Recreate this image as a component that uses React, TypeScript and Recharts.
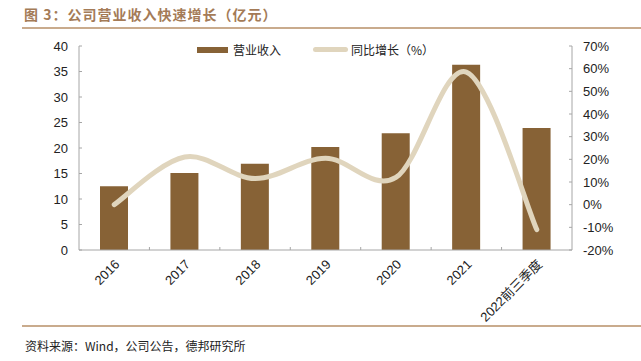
import React from "react";
import { ComposedChart, Bar, Line, XAxis, YAxis, Legend } from "recharts";

const years = ["2016", "2017", "2018", "2019", "2020", "2021", "2022前三季度"];
const revenue = [12.5, 15.1, 16.9, 20.2, 22.9, 36.3, 23.9];
const growth = [0.0, 21.0, 11.5, 20.5, 12.0, 58.5, -11.0];
const leftTicks = [0, 5, 10, 15, 20, 25, 30, 35, 40];
const rightTicks = [-20, -10, 0, 10, 20, 30, 40, 50, 60, 70];

const barName = "营业收入";
const lineName = "同比增长（%）";

const BROWN = "#876236";
const BEIGE = "#e0d5bd";
const AXIS = "#a6a6a6";
const FONT = "'Liberation Sans', Arial, 'Noto Sans CJK SC', sans-serif";
const CJK = "'Noto Sans CJK SC', sans-serif";

const data = years.map((y, i) => ({ year: y, revenue: revenue[i], growth: growth[i] }));

// excel-style smoothed line (catmull-rom through the points)
function smoothCurve(context: any) {
  let pts: number[][] = [];
  return {
    areaStart() {},
    areaEnd() {},
    lineStart() {
      pts = [];
    },
    point(x: number, y: number) {
      pts.push([+x, +y]);
    },
    lineEnd() {
      if (!pts.length) return;
      context.moveTo(pts[0][0], pts[0][1]);
      for (let i = 0; i < pts.length - 1; i++) {
        const p0 = pts[i - 1] || pts[i];
        const p1 = pts[i];
        const p2 = pts[i + 1];
        const p3 = pts[i + 2] || p2;
        context.bezierCurveTo(
          p1[0] + (p2[0] - p0[0]) / 6,
          p1[1] + (p2[1] - p0[1]) / 6,
          p2[0] - (p3[0] - p1[0]) / 6,
          p2[1] - (p3[1] - p1[1]) / 6,
          p2[0],
          p2[1]
        );
      }
    },
  };
}

function LeftTick(props: any) {
  const { x, y, payload } = props;
  return (
    <g>
      <line x1={x + 11} x2={x + 14} y1={y} y2={y} stroke={AXIS} />
      <text x={x} y={y} dy="0.35em" textAnchor="end" fontSize={13} fill="#222" fontFamily={FONT}>
        {payload.value}
      </text>
    </g>
  );
}

function RightTick(props: any) {
  const { x, y, payload } = props;
  return (
    <g>
      <line x1={x - 11} x2={x - 14} y1={y} y2={y} stroke={AXIS} />
      <text x={x} y={y} dy="0.35em" textAnchor="start" fontSize={13} fill="#222" fontFamily={FONT}>
        {payload.value}%
      </text>
    </g>
  );
}

function XTick(props: any) {
  const { x, y, payload, index } = props;
  const band = props.width && props.visibleTicksCount ? props.width / props.visibleTicksCount : 70.4;
  const tx = x + 3;
  const ty = y + 4;
  return (
    <g>
      {index < years.length - 1 && (
        <line x1={x + band / 2} x2={x + band / 2} y1={y - 8} y2={y - 11} stroke={AXIS} />
      )}
      <text
        x={tx}
        y={ty}
        dy="0.35em"
        textAnchor="end"
        fontSize={13}
        fill="#222"
        fontFamily={FONT}
        transform={`rotate(-45, ${tx}, ${ty})`}
      >
        {payload.value}
      </text>
    </g>
  );
}

function LegendBox() {
  return (
    <div style={{ position: "relative", height: 16, fontFamily: CJK, fontSize: 12, color: "#222" }}>
      <div style={{ position: "absolute", left: 197, top: 5, width: 31, height: 6, background: BROWN }} />
      <div style={{ position: "absolute", left: 233, top: 0, lineHeight: "16px" }}>{barName}</div>
      <div style={{ position: "absolute", left: 313, top: 5, width: 35, height: 5, borderRadius: 3, background: BEIGE }} />
      <div style={{ position: "absolute", left: 351, top: 0, lineHeight: "16px" }}>{lineName}</div>
    </div>
  );
}

export default function App() {
  return (
    <div style={{ position: "absolute", left: 0, top: 0, width: 641, height: 361, background: "#fff", overflow: "hidden" }}>
      <div
        style={{
          position: "absolute",
          left: 24,
          top: 4,
          fontFamily: CJK,
          fontWeight: 700,
          fontSize: 14,
          color: "#a47b57",
          letterSpacing: 1,
        }}
      >
        图 3：公司营业收入快速增长（亿元）
      </div>
      <div style={{ position: "absolute", left: 22, top: 27, width: 619, height: 2, background: "#c9ab8d" }} />

      <div style={{ position: "absolute", left: 0, top: 0 }}>
        <ComposedChart width={641} height={330} data={data} margin={{ top: 30, right: 0, left: 0, bottom: 0 }}>
          <Legend
            verticalAlign="top"
            height={16}
            content={() => <LegendBox />}
            wrapperStyle={{ position: "absolute", top: 42, left: 0, width: 641 }}
          />
          <XAxis
            dataKey="year"
            height={80}
            interval={0}
            tickLine={false}
            tickSize={0}
            tickMargin={8}
            stroke={AXIS}
            tick={<XTick />}
          />
          <YAxis
            yAxisId="left"
            width={79}
            domain={[0, 40]}
            ticks={leftTicks}
            interval={0}
            tickLine={false}
            tickSize={0}
            tickMargin={11}
            stroke={AXIS}
            tick={<LeftTick />}
          />
          <YAxis
            yAxisId="right"
            orientation="right"
            width={69}
            domain={[-20, 70]}
            ticks={rightTicks}
            interval={0}
            tickLine={false}
            tickSize={0}
            tickMargin={11}
            stroke={AXIS}
            tick={<RightTick />}
          />
          <Bar yAxisId="left" dataKey="revenue" name={barName} fill={BROWN} barSize={28} isAnimationActive={false} />
          <Line
            yAxisId="right"
            dataKey="growth"
            name={lineName}
            type={smoothCurve as any}
            stroke={BEIGE}
            strokeWidth={5}
            strokeLinecap="round"
            dot={false}
            activeDot={false}
            isAnimationActive={false}
          />
        </ComposedChart>
      </div>

      <div style={{ position: "absolute", left: 22, top: 325, width: 619, height: 2, background: "#c9ab8d" }} />
      <div style={{ position: "absolute", left: 25, top: 337, fontFamily: CJK, fontSize: 12, color: "#222" }}>
        资料来源：Wind，公司公告，德邦研究所
      </div>
    </div>
  );
}
